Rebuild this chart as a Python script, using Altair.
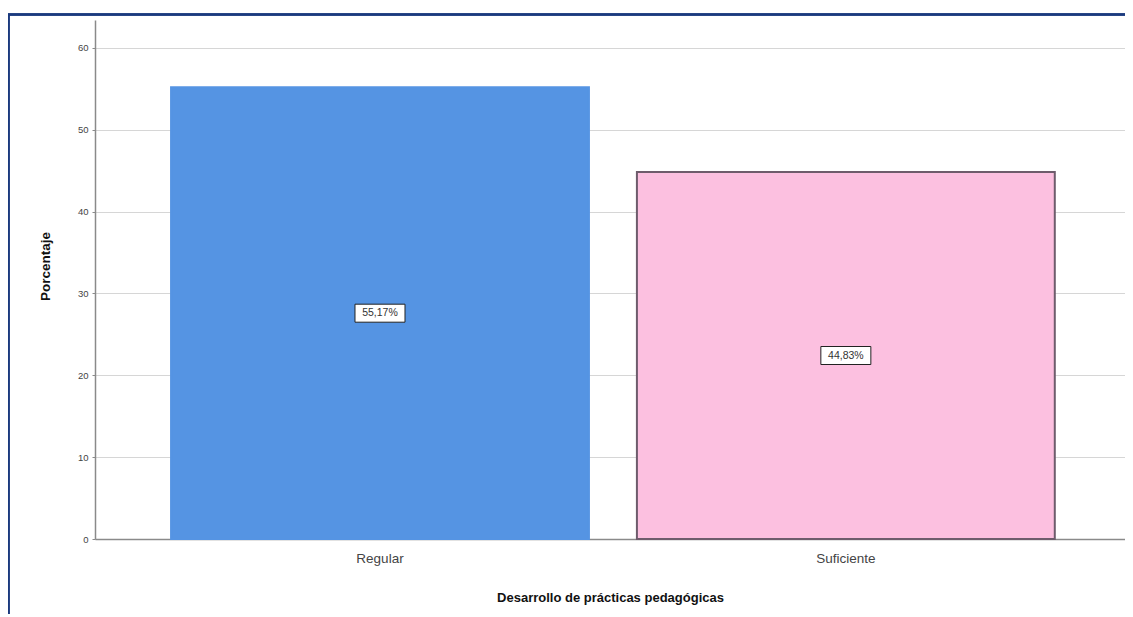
import altair as alt
import pandas as pd

categorias = ["Regular", "Suficiente"]
porcentajes = [55.17, 44.83]
etiquetas = ["55,17%", "44,83%"]
colores = ["#5594E3", "#FCC0E0"]
bordes = ["#5594E3", "#6E5C6C"]
y_ticks = [0, 10, 20, 30, 40, 50, 60]

df = pd.DataFrame({"Categoria": categorias, "Porcentaje": porcentajes, "Etiqueta": etiquetas})

x_enc = alt.X(
    "Categoria:N",
    sort=categorias,
    scale=alt.Scale(paddingInner=0.103, paddingOuter=0.157, align=0.52),
    axis=alt.Axis(
        title="Desarrollo de prácticas pedagógicas",
        labelAngle=0,
        labelFontSize=13.5,
        labelColor="#444444",
        labelPadding=12,
        labelFont="Liberation Sans",
        ticks=False,
        domainColor="#8a8a8a",
        domainWidth=1.5,
        titleFontSize=13,
        titleFontWeight="bold",
        titleFont="Liberation Sans",
        titleColor="#111111",
        titleY=58,
        titleBaseline="middle",
    ),
)

y_scale = alt.Scale(domain=[0, 63.4], nice=False)

bars = alt.Chart(df).mark_bar(strokeWidth=2).encode(
    x=x_enc,
    y=alt.Y(
        "Porcentaje:Q",
        scale=y_scale,
        axis=alt.Axis(
            title="Porcentaje",
            values=y_ticks,
            labelFontSize=9.5,
            labelColor="#444444",
            labelFont="Liberation Sans",
            labelPadding=4,
            tickSize=3,
            tickColor="#8a8a8a",
            domainColor="#8a8a8a",
            domainWidth=1.5,
            gridColor="#d6d6d6",
            gridWidth=1,
            titleFontSize=13.5,
            titleFontWeight="bold",
            titleFont="Liberation Sans",
            titleColor="#111111",
            titleX=-50,
            titleY=246,
            titleBaseline="middle",
        ),
    ),
    color=alt.Color("Categoria:N", scale=alt.Scale(domain=categorias, range=colores), legend=None),
    stroke=alt.Stroke("Categoria:N", scale=alt.Scale(domain=categorias, range=bordes), legend=None),
)

mid = alt.Chart(df).transform_calculate(mitad="datum.Porcentaje / 2")

boxes = mid.mark_point(
    shape="M-1,-0.36L1,-0.36L1,0.36L-1,0.36Z",
    filled=True,
    fill="white",
    stroke="#222222",
    strokeWidth=1,
    opacity=1,
    size=2500,
).encode(
    x=alt.X("Categoria:N", sort=categorias),
    y=alt.Y("mitad:Q", scale=y_scale),
)

texts = mid.mark_text(fontSize=10.5, font="Liberation Sans", color="#333333").encode(
    x=alt.X("Categoria:N", sort=categorias),
    y=alt.Y("mitad:Q", scale=y_scale),
    text="Etiqueta:N",
)

border_left = alt.Chart(df).mark_rule(color="#1B3A7E", strokeWidth=2.5).encode(
    x=alt.value(-86.5), y=alt.value(-6), y2=alt.value(620)
)
border_top = alt.Chart(df).mark_rule(color="#1B3A7E", strokeWidth=2.5).encode(
    x=alt.value(-88), x2=alt.value(1040), y=alt.value(-5.5)
)

chart = (
    alt.layer(bars, boxes, texts, border_left, border_top)
    .properties(
        width=1030,
        height=519,
        autosize=alt.AutoSizeParams(type="none"),
        padding={"left": 87, "top": 12, "right": 0, "bottom": 75},
    )
    .configure_view(stroke=None)
)

chart.save("out.html", embed_options={"renderer": "svg", "actions": False})
